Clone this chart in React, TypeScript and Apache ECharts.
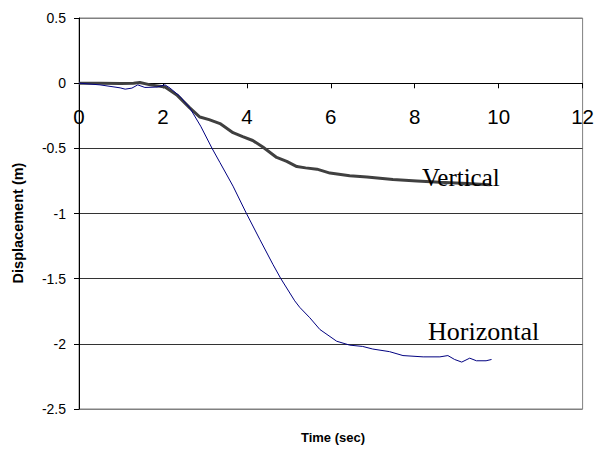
import React, { useEffect, useRef } from "react";
import * as echarts from "echarts";

const xTicks = [0, 2, 4, 6, 8, 10, 12];
const yTicks = [-2.5, -2, -1.5, -1, -0.5, 0, 0.5];

const horizontalTime = [0, 0.5, 0.98, 1.1, 1.26, 1.4, 1.57, 1.86, 2.05, 2.17, 2.4, 2.64, 2.9, 3.17, 3.36, 3.55, 3.67, 3.99, 4.31, 4.62, 4.81, 5.14, 5.26, 5.5, 5.74, 6.14, 6.45, 6.76, 7.0, 7.4, 7.72, 8.2, 8.6, 8.79, 8.95, 9.12, 9.31, 9.47, 9.7, 9.83];
const horizontalDisp = [0, -0.013, -0.036, -0.046, -0.038, -0.013, -0.033, -0.03, -0.013, -0.038, -0.1, -0.19, -0.33, -0.5, -0.61, -0.72, -0.79, -1.0, -1.2, -1.39, -1.5, -1.67, -1.72, -1.8, -1.89, -1.98, -2.01, -2.02, -2.04, -2.06, -2.09, -2.1, -2.1, -2.09, -2.12, -2.14, -2.11, -2.13, -2.13, -2.12];

const verticalTime = [0, 0.5, 1.0, 1.3, 1.45, 1.7, 2.05, 2.33, 2.64, 2.88, 3.1, 3.36, 3.67, 3.9, 4.14, 4.38, 4.71, 4.95, 5.19, 5.4, 5.67, 5.98, 6.45, 6.86, 7.48, 8.05, 8.6, 9.24, 9.79];
const verticalDisp = [0, 0, -0.003, 0, 0.005, -0.013, -0.03, -0.09, -0.19, -0.26, -0.28, -0.31, -0.38, -0.41, -0.44, -0.49, -0.57, -0.6, -0.64, -0.65, -0.66, -0.69, -0.71, -0.72, -0.74, -0.75, -0.76, -0.77, -0.78];

const seriesNames = ["Horizontal", "Vertical"];

export default function App() {
  const ref = useRef<HTMLDivElement>(null);
  useEffect(() => {
    if (!ref.current) return;
    const chart = echarts.init(ref.current, null, { renderer: "svg" });
    const hData = horizontalTime.map((t, i) => [t, horizontalDisp[i]]);
    const vData = verticalTime.map((t, i) => [t, verticalDisp[i]]);
    chart.setOption({
      animation: false,
      backgroundColor: "#ffffff",
      grid: {
        left: 79,
        top: 18,
        right: 13,
        bottom: 40,
        show: true,
        borderColor: "#808080",
        borderWidth: 1,
        containLabel: false,
      },
      xAxis: {
        type: "value",
        min: xTicks[0],
        max: xTicks[xTicks.length - 1],
        interval: 2,
        position: "bottom",
        offset: -325.7,
        axisLine: { show: true, onZero: false, lineStyle: { color: "#000", width: 1 } },
        axisTick: { show: true, inside: false, length: 5, lineStyle: { color: "#000" } },
        axisLabel: {
          color: "#000",
          fontFamily: "Arial, Liberation Sans, sans-serif",
          fontSize: 20.5,
          margin: 23,
        },
        splitLine: { show: false },
        z: 1,
      },
      yAxis: {
        type: "value",
        min: yTicks[0],
        max: yTicks[yTicks.length - 1],
        interval: 0.5,
        axisLine: { show: true, lineStyle: { color: "#000", width: 1 } },
        axisTick: { show: true, inside: false, length: 5, lineStyle: { color: "#000" } },
        axisLabel: {
          color: "#000",
          fontFamily: "Arial, Liberation Sans, sans-serif",
          fontSize: 14,
          margin: 13,
        },
        splitLine: {
          show: true,
          lineStyle: {
            color: ["#808080", "#333333", "#333333", "#333333", "#333333", "#333333", "#808080"],
            width: 1,
          },
        },
      },
      graphic: [
        {
          type: "text",
          x: 17.5,
          y: 223,
          rotation: Math.PI / 2,
          style: {
            text: "Displacement (m)",
            font: "bold 14.5px Arial, 'Liberation Sans', sans-serif",
            fill: "#000",
            align: "center",
            verticalAlign: "middle",
          },
        },
        {
          type: "text",
          x: 333,
          y: 437.5,
          style: {
            text: "Time (sec)",
            font: "bold 13px Arial, 'Liberation Sans', sans-serif",
            fill: "#000",
            align: "center",
            verticalAlign: "middle",
          },
        },
        {
          type: "text",
          x: 422,
          y: 177,
          z: 10,
          style: {
            text: seriesNames[1],
            font: "25px 'Liberation Serif', 'Times New Roman', serif",
            fill: "#000",
            align: "left",
            verticalAlign: "middle",
          },
        },
        {
          type: "text",
          x: 428,
          y: 331,
          z: 10,
          style: {
            text: seriesNames[0],
            font: "26px 'Liberation Serif', 'Times New Roman', serif",
            fill: "#000",
            align: "left",
            verticalAlign: "middle",
          },
        },
      ],
      series: [
        {
          name: seriesNames[0],
          type: "line",
          data: hData,
          showSymbol: false,
          symbol: "none",
          lineStyle: { color: "#000080", width: 1 },
          z: 3,
        },
        {
          name: seriesNames[1],
          type: "line",
          data: vData,
          showSymbol: false,
          symbol: "none",
          lineStyle: { color: "#404040", width: 3 },
          z: 2,
        },
      ],
    });
    return () => chart.dispose();
  }, []);
  return <div ref={ref} style={{ width: 597, height: 449, position: "absolute", left: 0, top: 0 }} />;
}
